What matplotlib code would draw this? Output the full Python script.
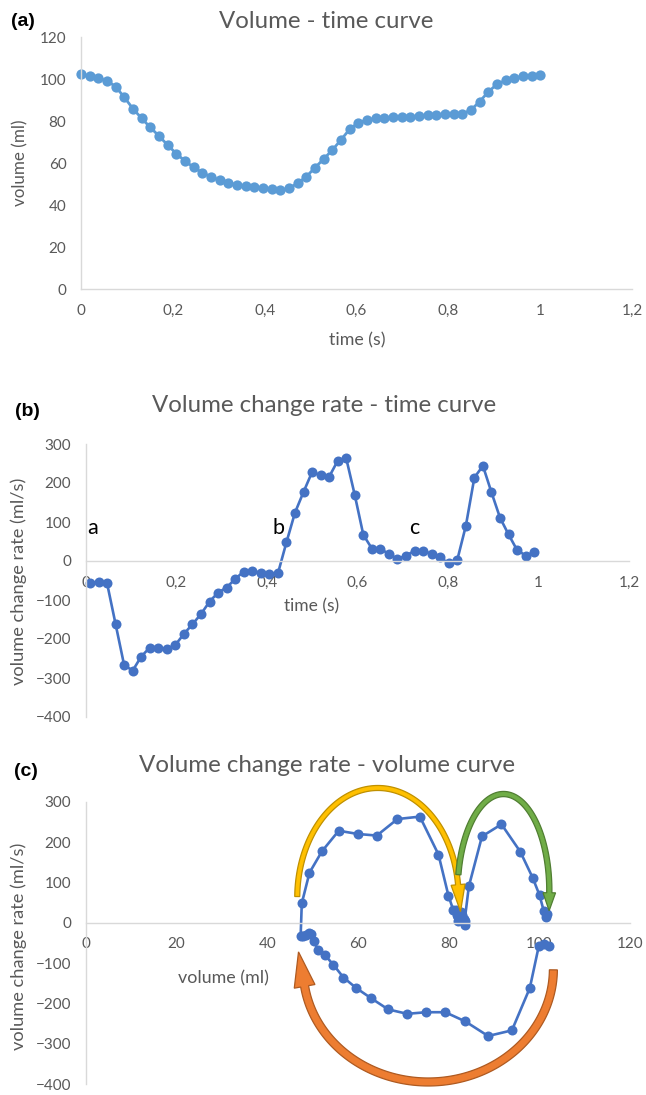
import numpy as np
import matplotlib
matplotlib.use("Agg")
import matplotlib.pyplot as plt
from matplotlib.patches import Polygon

W, H, DPI = 646, 1095, 100

# ---------------- data ----------------
volume = [102.5, 101.6, 100.5, 99.3, 96.5, 91.4, 86.0, 81.4, 77.1, 73.0,
          68.7, 64.6, 61.1, 58.1, 55.5, 53.6, 51.9, 50.6, 49.8, 49.3,
          48.9, 48.2, 47.6, 47.1, 48.1, 50.5, 53.6, 57.9, 62.0, 66.3,
          71.1, 76.2, 79.3, 80.6, 81.4, 81.7, 81.9, 82.0, 82.2, 82.5,
          82.9, 83.1, 83.5, 83.5, 83.5, 85.4, 89.3, 94.0, 97.6, 99.5,
          100.6, 101.4, 101.6, 101.9]
rate = [-57, -53, -57, -162, -267, -281, -245, -222, -222, -226,
        -215, -187, -162, -136, -104, -81, -68, -46, -27, -26,
        -30, -33, -32, 48, 124, 177, 228, 220, 216, 257,
        263, 169, 67, 32, 31, 18, 5, 14, 26, 26,
        18, 9, -6, 3, 90, 214, 244, 176, 111, 68,
        28, 14, 22]
frame_dt = 1 / 53
time_volume = np.arange(len(volume)) * frame_dt
time_rate = (np.arange(len(rate)) + 0.5) * frame_dt
volume_mid = (np.array(volume[:-1]) + np.array(volume[1:])) / 2

time_ticks = [0, 0.2, 0.4, 0.6, 0.8, 1.0, 1.2]
time_ticklabels = ['0', '0,2', '0,4', '0,6', '0,8', '1', '1,2']
vol_ticks = [0, 20, 40, 60, 80, 100, 120]
vol_ticklabels = ['0', '20', '40', '60', '80', '100', '120']
rate_ticks = [300, 200, 100, 0, -100, -200, -300, -400]
rate_ticklabels = ['300', '200', '100', '0', '\u2212100', '\u2212200', '\u2212300', '\u2212400']

# ---------------- style ----------------
plt.rcParams['font.family'] = ['Lato', 'DejaVu Sans']
GREY = '#595959'
AXC = '#D9D9D9'
BLUE_A = '#5B9BD5'
BLUE_B = '#4472C4'

fig = plt.figure(figsize=(W / DPI, H / DPI), dpi=DPI)
renderer = fig.canvas.get_renderer()


def axes_px(left, top, right, bottom):
    return fig.add_axes([left / W, 1 - bottom / H, (right - left) / W, (bottom - top) / H])


def ftext(x, y, s, **kw):
    return fig.text(x / W, 1 - y / H, s, **kw)


def fit(t, target):
    bb = t.get_window_extent(renderer)
    t.set_fontsize(t.get_fontsize() * target / bb.width)


def fit_h(t, target):
    bb = t.get_window_extent(renderer)
    t.set_fontsize(t.get_fontsize() * target / bb.height)


def style(ax):
    for s in ['top', 'right']:
        ax.spines[s].set_visible(False)
    for s in ['left', 'bottom']:
        ax.spines[s].set_color(AXC)
        ax.spines[s].set_linewidth(1.0)
    ax.tick_params(length=0, labelsize=11, labelcolor=GREY, pad=10.5)
    ax.patch.set_alpha(0)


def curved_arrow(ax, cx, cy, a, b, th0, th1, tail_w, head_w, head_l, fc, ec):
    th = np.radians(np.linspace(th0, th1, 300))
    pts = np.column_stack([cx + a * np.cos(th), cy + b * np.sin(th)])
    disp = ax.transData.transform(pts)
    d = np.gradient(disp, axis=0)
    t = d / np.linalg.norm(d, axis=1)[:, None]
    n = np.column_stack([-t[:, 1], t[:, 0]])
    left = disp + n * tail_w / 2
    right = disp - n * tail_w / 2
    end, te, ne = disp[-1], t[-1], n[-1]
    tip = end + te * head_l
    hl = end + ne * head_w / 2
    hr = end - ne * head_w / 2
    poly = np.vstack([left, hl, tip, hr, right[::-1]])
    data_poly = ax.transData.inverted().transform(poly)
    ax.add_patch(Polygon(data_poly, closed=True, facecolor=fc, edgecolor=ec,
                         linewidth=0.9, clip_on=False, zorder=5, joinstyle='miter'))


BOLD_FAM = ['Liberation Sans', 'DejaVu Sans']

# ---------------- panel (a) ----------------
ax1 = axes_px(81, 37.3, 632, 289.3)
style(ax1)
ax1.plot(time_volume, volume, '-o', color=BLUE_A, lw=2, ms=7.4, mew=0, clip_on=False)
ax1.set_xlim(0, 1.2)
ax1.set_ylim(0, 120)
ax1.set_xticks(time_ticks, time_ticklabels)
ax1.set_yticks(vol_ticks, vol_ticklabels)

t = ftext(326, 21, 'Volume - time curve', color=GREY, ha='center', va='center', fontsize=15)
fit(t, 215)
ftext(23, 21, '(a)', fontweight='bold', fontsize=14, ha='center', va='center', family=BOLD_FAM)
t = ftext(357, 340, 'time (s)', color=GREY, ha='center', va='center', fontsize=11)
fit(t, 56)
t = ftext(20, 163, 'volume (ml)', color=GREY, ha='center', va='center', rotation=90, fontsize=11)
fit_h(t, 86)

# ---------------- panel (b) ----------------
ax2 = axes_px(85.7, 444, 629, 717)
style(ax2)
ax2.spines['bottom'].set_position(('data', 0))
ax2.plot(time_rate, rate, '-o', color=BLUE_B, lw=1.9, ms=7.2, mew=0, clip_on=False)
ax2.set_xlim(0, 1.2)
ax2.set_ylim(-400, 300)
ax2.set_xticks(time_ticks, time_ticklabels)
ax2.set_yticks(rate_ticks, rate_ticklabels)

t = ftext(324, 406, 'Volume change rate - time curve', color=GREY, ha='center', va='center', fontsize=15)
fit(t, 344)
ftext(27, 412, '(b)', fontweight='bold', fontsize=14, ha='center', va='center', family=BOLD_FAM)
t = ftext(312, 606, 'time (s)', color=GREY, ha='center', va='center', fontsize=11)
fit(t, 55)
t = ftext(19, 581, 'volume change rate (ml/s)', color=GREY, ha='center', va='center', rotation=90, fontsize=11)
fit_h(t, 207)
for lab, xx in [('a', 92.8), ('b', 279), ('c', 414)]:
    ftext(xx, 534, lab, color='black', ha='center', va='baseline', fontsize=15.5)

# ---------------- panel (c) ----------------
ax3 = axes_px(86, 801.7, 630, 1084)
style(ax3)
ax3.spines['bottom'].set_position(('data', 0))
ax3.plot(volume_mid, rate, '-o', color=BLUE_B, lw=1.9, ms=7.2, mew=0, clip_on=False)
ax3.set_xlim(0, 120)
ax3.set_ylim(-400, 300)
ax3.set_xticks(vol_ticks, vol_ticklabels)
ax3.set_yticks(rate_ticks, rate_ticklabels)

t = ftext(327, 765, 'Volume change rate - volume curve', color=GREY, ha='center', va='center', fontsize=15)
fit(t, 377)
ftext(26, 772, '(c)', fontweight='bold', fontsize=14, ha='center', va='center', family=BOLD_FAM)
t = ftext(223, 978, 'volume (ml)', color=GREY, ha='center', va='center', fontsize=11)
fit(t, 91)
t = ftext(19, 946, 'volume change rate (ml/s)', color=GREY, ha='center', va='center', rotation=90, fontsize=11)
fit_h(t, 207)

# curved block arrows
curved_arrow(ax3, 64.4, 62, 17.8, 272, 179.4, 6.8, 5.0, 14, 27, '#FFC000', '#BF9000')
curved_arrow(ax3, 92.1, 80, 10.1, 239, 170.6, -1.4, 5.2, 12.5, 18, '#70AD47', '#507E32')
curved_arrow(ax3, 75.5, -115, 27.6, 280, -0.4, -171.2, 8.0, 21, 35, '#ED7D31', '#AE5A21')

fig.savefig('out.png', dpi=DPI)
